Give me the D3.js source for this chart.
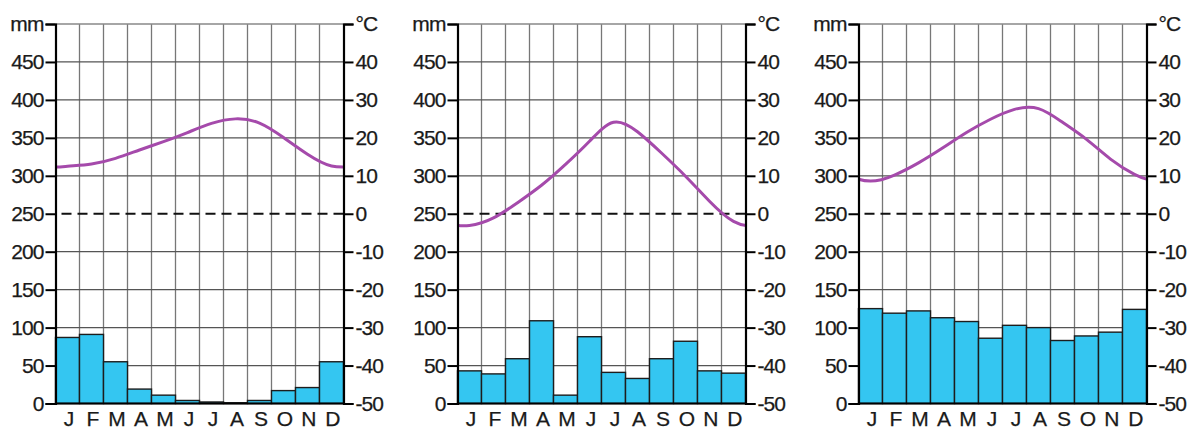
<!DOCTYPE html>
<html>
<head>
<meta charset="utf-8">
<script src="https://cdn.jsdelivr.net/npm/d3@7"></script>
<style>
  body { margin: 0; background: #fff; }
  svg { display: block; font-family: "Liberation Sans", Arial, sans-serif; }
</style>
</head>
<body>
<svg id="chart" width="1203" height="432"></svg>
<script>
// Month labels and axis ticks
const months = ["J", "F", "M", "A", "M", "J", "J", "A", "S", "O", "N", "D"];
const mmTicks = [0, 50, 100, 150, 200, 250, 300, 350, 400, 450];
const tempTicks = [-50, -40, -30, -20, -10, 0, 10, 20, 30, 40];

// Station 1
const precip1 = [87, 91, 55, 19, 11, 4, 2, 1, 4, 17, 21, 55];
const temp1 = [12.5, 13.1, 14.6, 16.8, 19.0, 21.4, 23.8, 25.0, 23.9, 20.1, 15.7, 12.6];

// Station 2
const precip2 = [43, 39, 59, 109, 11, 88, 41, 33, 59, 82, 43, 40];
const temp2 = [-3.1, -1.1, 2.9, 7.5, 13.0, 19.1, 24.1, 21.6, 16.0, 9.9, 3.3, -2.0];

// Station 3
const precip3 = [125, 119, 122, 113, 108, 86, 103, 100, 83, 89, 94, 124];
const temp3 = [8.6, 10.2, 13.4, 17.3, 21.4, 24.9, 27.5, 27.7, 24.1, 19.6, 14.4, 10.4];

const stations = [
    { precip: precip1, temp: temp1 },
    { precip: precip2, temp: temp2 },
    { precip: precip3, temp: temp3 }
];

const svg = d3.select("#chart");
const plotW = 288, plotTop = 24, plotBottom = 403.5;
const lefts = [55.5, 457.5, 858.5];

const yMm = d3.scaleLinear().domain([0, 500]).range([plotBottom, plotTop]);
const yT = d3.scaleLinear().domain([-50, 50]).range([plotBottom, plotTop]);

function styleText(sel) {
    sel.attr("font-size", 21)
        .attr("font-family", "'Liberation Sans', Arial, sans-serif")
        .attr("letter-spacing", -0.9)
        .attr("fill", "#1a1a1a")
        .attr("stroke", "#1a1a1a")
        .attr("stroke-width", 0.25);
}

function drawChart(st, i) {
    const g = svg.append("g").attr("transform", `translate(${lefts[i]},0)`);
    const x = d3.scaleBand().domain(d3.range(12)).range([0, plotW]).padding(0);
    const cx = d => x(d) + x.bandwidth() / 2;

    // vertical grid
    g.selectAll(".vgrid").data(d3.range(1, 12)).join("line")
        .attr("x1", d => x(d)).attr("x2", d => x(d))
        .attr("y1", plotTop).attr("y2", plotBottom)
        .attr("stroke", "#777").attr("stroke-width", 1.3);

    // horizontal grid (skip 0 and 250)
    g.selectAll(".hgrid").data([50, 100, 150, 200, 300, 350, 400, 450, 500]).join("line")
        .attr("x1", 0).attr("x2", plotW)
        .attr("y1", d => yMm(d)).attr("y2", d => yMm(d))
        .attr("stroke", d => d === 500 ? "#888" : "#555").attr("stroke-width", 1.3);

    // bars
    g.selectAll(".bar").data(st.precip).join("rect")
        .attr("x", (d, j) => x(j))
        .attr("y", d => yMm(d))
        .attr("width", x.bandwidth())
        .attr("height", d => yMm(0) - yMm(d))
        .attr("fill", "#34c6f1")
        .attr("stroke", "#1d1d1d")
        .attr("stroke-width", 1.4);

    // zero degree dashed line
    g.append("line")
        .attr("x1", 0).attr("x2", plotW)
        .attr("y1", yT(0)).attr("y2", yT(0))
        .attr("stroke", "#111").attr("stroke-width", 2.2)
        .attr("stroke-dasharray", "10,6").attr("stroke-dashoffset", -6);

    // temperature curve, wrapped around the year and clipped to the plot
    const clipId = "clip" + i;
    g.append("clipPath").attr("id", clipId)
        .append("rect").attr("x", 0).attr("y", plotTop).attr("width", plotW).attr("height", plotBottom - plotTop);
    const pts = [[cx(0) - 2 * x.bandwidth(), st.temp[10]], [cx(0) - x.bandwidth(), st.temp[11]]]
        .concat(st.temp.map((t, j) => [cx(j), t]))
        .concat([[cx(11) + x.bandwidth(), st.temp[0]], [cx(11) + 2 * x.bandwidth(), st.temp[1]]]);
    g.append("path")
        .datum(pts)
        .attr("clip-path", `url(#${clipId})`)
        .attr("fill", "none")
        .attr("stroke", "#a54aab")
        .attr("stroke-width", 3)
        .attr("stroke-linejoin", "round")
        .attr("d", d3.line().x(d => d[0]).y(d => yT(d[1])).curve(d3.curveNatural));

    // baseline
    g.append("line").attr("x1", 0).attr("x2", plotW)
        .attr("y1", plotBottom).attr("y2", plotBottom)
        .attr("stroke", "#000").attr("stroke-width", 2);

    // left axis
    const left = g.append("g")
        .call(d3.axisLeft(yMm).tickValues(mmTicks.concat([500])).tickSize(10).tickPadding(2)
            .tickFormat(d => d === 500 ? "mm" : d));
    // right axis
    const right = g.append("g").attr("transform", `translate(${plotW},0)`)
        .call(d3.axisRight(yT).tickValues(tempTicks.concat([50])).tickSize(10).tickPadding(2)
            .tickFormat(d => d === 50 ? "°C" : d));

    [left, right].forEach(ax => {
        ax.select(".domain").attr("stroke", "#000").attr("stroke-width", 2.2);
        ax.selectAll(".tick line").attr("stroke", "#000").attr("stroke-width", 2);
        styleText(ax.selectAll(".tick text"));
    });

    // month labels
    styleText(g.selectAll(".month").data(months).join("text")
        .attr("x", (d, j) => cx(j) + 1)
        .attr("y", 426)
        .attr("text-anchor", "middle")
        .text(d => d));
}

stations.forEach(drawChart);
</script>
</body>
</html>
